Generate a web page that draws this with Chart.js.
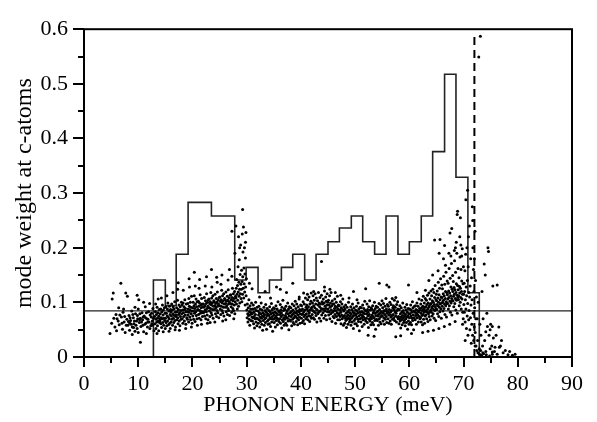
<!DOCTYPE html>
<html><head><meta charset="utf-8">
<script src="https://cdn.jsdelivr.net/npm/chart.js@4"></script>
<style>html,body{margin:0;padding:0;background:#fff}canvas{display:block}</style>
</head><body>
<canvas id="c" width="597" height="422"></canvas>
<script>
const xTickLabels = ['0','10','20','30','40','50','60','70','80','90'];
const yTickLabels = ['0','0.1','0.2','0.3','0.4','0.5','0.6'];
const xTitle = 'PHONON ENERGY (meV)';
const yTitle = 'mode weight at c-atoms';

// histogram (step line): bin left edges and values, last edge closes the final bin
const histEdges = [12.8,15.0,17.0,19.2,21.3,23.5,25.6,27.8,29.9,32.1,34.2,36.4,38.5,40.7,42.8,45.0,47.1,49.3,51.4,53.6,55.7,57.9,60.0,62.2,64.3,66.5,68.6,70.8,72.9];
const histValues = [0.141,0.094,0.188,0.283,0.283,0.258,0.258,0.141,0.164,0.1175,0.141,0.164,0.188,0.141,0.188,0.211,0.236,0.258,0.211,0.188,0.258,0.188,0.211,0.258,0.376,0.5175,0.329,0.1175];

const averageWeight = 0.0845;
const cutoffEnergy = 72.0;
const cutoffTop = 0.59;

const dotsLowEnergy = [
[4.8,.043],[5.1,.062],[5.2,.106],[5.4,.117],[5.5,.071],[5.7,.055],[5.9,.078],[6.0,.048],[6.3,.066],[6.5,.059],[6.8,.135],[6.9,.073],[7.1,.051],[7.2,.082],[7.4,.064],[7.6,.045],[7.7,.117],[7.9,.069],[8.0,.111],[8.1,.058],[8.3,.076],[8.4,.049],[8.6,.067],[8.8,.084],[8.9,.055],[9.1,.072],[9.2,.061],[9.4,.047],[9.5,.079],[9.7,.066],[9.8,.052],[10.0,.088],[10.1,.105],[10.2,.063],[10.4,.071],[10.5,.056],[10.7,.081],[10.8,.068],[11.0,.046],[11.1,.075],[11.3,.092],[11.4,.062],[11.6,.07],[11.7,.055],[11.9,.083],[12.0,.064],[12.1,.098],[12.3,.057],[12.4,.073],[12.6,.066],
[6.1,.07],[6.6,.077],[7.0,.062],[7.5,.074],[7.8,.058],[8.2,.065],[8.5,.072],[8.7,.06],[9.0,.078],[9.3,.066],[9.6,.058],[9.9,.07],[10.3,.079],[10.6,.064],[10.9,.073],[11.2,.06],[11.5,.081],[11.8,.069],[12.2,.077],[12.5,.061],[8.9,.041],[10.0,.045],[11.5,.043],[9.4,.091],[7.3,.088],[12.7,.089],[12.9,.048],[11.0,.1],[9.8,.113],[6.4,.09],[10.4,.027],[12.8,.071],
[8.45,.062],[9.15,.054],[9.85,.076],[10.25,.068],[10.85,.058],[11.35,.072],[11.75,.064],[12.15,.052],[12.45,.08],[12.65,.058]
];

const dotsAcoustic = [
[13.03,.074],[13.11,.061],[13.17,.083],[13.26,.052],[13.29,.069],[13.36,.078],[13.42,.064],[13.48,.091],[13.55,.057],[13.58,.072],[13.63,.081],[13.71,.066],[13.77,.048],[13.82,.075],[13.88,.087],[13.93,.063],[13.97,.07],[13.21,.097],[13.46,.043],[13.68,.106],
[14.02,.066],[14.07,.079],[14.14,.088],[14.19,.061],[14.24,.072],[14.31,.054],[14.36,.083],[14.43,.07],[14.47,.095],[14.53,.063],[14.58,.077],[14.64,.086],[14.7,.058],[14.76,.071],[14.83,.09],[14.88,.067],[14.94,.08],[14.99,.052],[14.27,.108],[14.61,.046],
[15.04,.071],[15.08,.092],[15.13,.063],[15.2,.08],[15.25,.057],[15.33,.075],[15.38,.088],[15.41,.066],[15.47,.099],[15.55,.073],[15.59,.059],[15.64,.084],[15.72,.07],[15.76,.093],[15.81,.062],[15.87,.078],[15.91,.052],[15.96,.087],[15.29,.112],[15.68,.047],
[16.02,.083],[16.06,.064],[16.13,.075],[16.17,.097],[16.22,.069],[16.28,.086],[16.33,.058],[16.39,.079],[16.44,.092],[16.49,.071],[16.56,.063],[16.61,.088],[16.66,.076],[16.73,.101],[16.77,.067],[16.84,.082],[16.88,.055],[16.95,.074],[16.4,.118],[16.8,.05],
[17.03,.077],[17.09,.09],[17.14,.068],[17.18,.083],[17.24,.104],[17.3,.072],[17.34,.061],[17.4,.087],[17.46,.078],[17.52,.095],[17.57,.066],[17.63,.081],[17.69,.057],[17.74,.092],[17.79,.074],[17.86,.085],[17.9,.069],[17.97,.1],[17.27,.124],[17.6,.049],[17.38,.136],
[18.02,.079],[18.08,.095],[18.12,.07],[18.19,.086],[18.23,.062],[18.28,.099],[18.35,.081],[18.39,.074],[18.44,.092],[18.51,.066],[18.55,.087],[18.6,.105],[18.67,.077],[18.71,.089],[18.78,.06],[18.83,.083],[18.87,.097],[18.94,.072],[18.31,.122],[18.75,.052],
[19.04,.083],[19.07,.069],[19.14,.098],[19.19,.077],[19.23,.088],[19.29,.064],[19.34,.107],[19.37,.082],[19.43,.093],[19.5,.073],[19.54,.086],[19.61,.1],[19.66,.068],[19.7,.091],[19.77,.079],[19.83,.111],[19.87,.084],[19.93,.062],[19.46,.128],[19.81,.055],[19.38,.143],
[20.02,.09],[20.06,.075],[20.13,.1],[20.17,.084],[20.22,.069],[20.29,.094],[20.33,.112],[20.39,.08],[20.44,.089],[20.48,.065],[20.56,.097],[20.6,.083],[20.67,.106],[20.71,.076],[20.76,.092],[20.83,.07],[20.87,.101],[20.95,.086],[20.53,.13],[20.91,.058],[20.35,.155],
[21.03,.087],[21.09,.102],[21.13,.078],[21.18,.093],[21.26,.071],[21.3,.099],[21.37,.085],[21.42,.114],[21.47,.08],[21.53,.095],[21.58,.068],[21.62,.09],[21.69,.107],[21.73,.083],[21.78,.097],[21.84,.074],[21.89,.092],[21.96,.081],[21.22,.126],[21.66,.06],[21.32,.142],
[22.02,.097],[22.08,.082],[22.13,.091],[22.18,.109],[22.24,.075],[22.29,.094],[22.34,.086],[22.41,.103],[22.45,.07],[22.52,.098],[22.57,.083],[22.61,.116],[22.68,.089],[22.72,.077],[22.79,.1],[22.84,.093],[22.88,.068],[22.93,.105],[22.36,.13],[22.76,.062],[22.59,.147],
[23.03,.09],[23.07,.106],[23.14,.084],[23.19,.097],[23.22,.074],[23.3,.101],[23.34,.089],[23.39,.118],[23.46,.081],[23.5,.095],[23.55,.108],[23.61,.077],[23.66,.099],[23.73,.087],[23.77,.112],[23.82,.071],[23.89,.093],[23.94,.103],[23.58,.128],[23.26,.063],[23.52,.16],
[24.02,.101],[24.06,.087],[24.12,.094],[24.17,.115],[24.25,.079],[24.29,.098],[24.33,.09],[24.4,.107],[24.45,.074],[24.49,.1],[24.54,.085],[24.6,.119],[24.64,.093],[24.69,.081],[24.76,.104],[24.8,.097],[24.86,.072],[24.92,.109],[24.56,.137],[24.13,.064],[24.47,.146],
[25.02,.094],[25.07,.11],[25.13,.088],[25.17,.101],[25.22,.078],[25.3,.105],[25.34,.093],[25.39,.122],[25.46,.085],[25.5,.099],[25.55,.112],[25.61,.081],[25.66,.103],[25.7,.091],[25.77,.116],[25.81,.075],[25.88,.097],[25.94,.107],[25.26,.133],[25.58,.066],[25.44,.15],
[26.03,.105],[26.08,.091],[26.12,.098],[26.18,.119],[26.24,.083],[26.29,.102],[26.33,.094],[26.41,.111],[26.45,.078],[26.5,.104],[26.55,.089],[26.6,.123],[26.65,.097],[26.69,.085],[26.76,.108],[26.81,.101],[26.86,.076],[26.93,.113],[26.57,.141],[26.15,.068],[26.82,.16],
[27.02,.098],[27.07,.114],[27.13,.092],[27.17,.105],[27.23,.082],[27.29,.109],[27.34,.097],[27.38,.126],[27.45,.089],[27.49,.103],[27.55,.116],[27.6,.085],[27.66,.107],[27.71,.095],[27.77,.12],[27.82,.079],[27.88,.101],[27.94,.111],[27.27,.148],[27.62,.07],[27.28,.23],[27.83,.19],
[28.03,.108],[28.07,.126],[28.12,.097],[28.16,.142],[28.22,.115],[28.27,.088],[28.31,.131],[28.36,.104],[28.41,.165],[28.45,.119],[28.5,.093],[28.56,.137],[28.6,.111],[28.64,.178],[28.69,.124],[28.73,.099],[28.79,.151],[28.84,.116],[28.89,.205],[28.93,.133],[28.97,.107],[28.02,.24],[28.5,.22],[28.7,.2],
[29.02,.124],[29.06,.159],[29.11,.101],[29.15,.138],[29.19,.225],[29.24,.115],[29.28,.147],[29.32,.192],[29.37,.126],[29.41,.238],[29.46,.108],[29.5,.163],[29.54,.134],[29.59,.2],[29.63,.119],[29.68,.152],[29.72,.095],[29.77,.181],[29.81,.128],[29.86,.228],[29.9,.112],[29.95,.143],[29.26,.27],[29.78,.21]
];

const dotsMiddle = [
[30.03,.086],[30.08,.072],[30.13,.097],[30.19,.079],[30.24,.064],[30.3,.09],[30.36,.076],[30.41,.105],[30.47,.069],[30.52,.083],[30.57,.058],[30.63,.094],[30.68,.078],[30.74,.088],[30.79,.067],[30.85,.081],[30.9,.099],[30.96,.073],[30.5,.135],
[31.02,.079],[31.07,.066],[31.12,.088],[31.18,.072],[31.23,.095],[31.28,.061],[31.34,.082],[31.39,.074],[31.45,.053],[31.5,.089],[31.56,.07],[31.61,.078],[31.66,.1],[31.72,.064],[31.77,.085],[31.83,.071],[31.88,.057],[31.94,.091],[31.0,.125],
[32.03,.07],[32.09,.084],[32.14,.062],[32.19,.077],[32.25,.093],[32.3,.068],[32.35,.081],[32.41,.055],[32.46,.073],[32.52,.088],[32.57,.065],[32.63,.079],[32.68,.099],[32.73,.071],[32.79,.06],[32.84,.086],[32.9,.075],[32.95,.049],[32.38,.11],
[33.02,.081],[33.07,.067],[33.13,.074],[33.18,.091],[33.24,.058],[33.29,.078],[33.35,.07],[33.4,.085],[33.46,.063],[33.51,.096],[33.57,.072],[33.62,.082],[33.67,.051],[33.73,.076],[33.78,.089],[33.84,.066],[33.89,.079],[33.95,.06],[33.4,.12],
[34.03,.068],[34.08,.085],[34.14,.076],[34.19,.061],[34.24,.092],[34.3,.072],[34.35,.083],[34.41,.056],[34.46,.079],[34.52,.07],[34.57,.098],[34.62,.064],[34.68,.087],[34.73,.074],[34.79,.047],[34.84,.081],[34.9,.069],[34.95,.09],[34.4,.108],
[35.02,.077],[35.08,.063],[35.13,.089],[35.18,.071],[35.24,.082],[35.29,.055],[35.35,.075],[35.4,.094],[35.46,.067],[35.51,.08],[35.56,.072],[35.62,.088],[35.67,.059],[35.73,.078],[35.78,.101],[35.84,.069],[35.89,.084],[35.95,.065],[35.5,.128],
[36.03,.083],[36.08,.07],[36.13,.078],[36.19,.096],[36.24,.062],[36.3,.086],[36.35,.074],[36.4,.081],[36.46,.053],[36.51,.091],[36.57,.068],[36.62,.077],[36.68,.104],[36.73,.065],[36.79,.085],[36.84,.072],[36.9,.058],[36.95,.089],[36.2,.124],
[37.02,.069],[37.07,.087],[37.13,.076],[37.18,.062],[37.24,.093],[37.29,.073],[37.34,.08],[37.4,.058],[37.45,.084],[37.51,.071],[37.56,.099],[37.62,.066],[37.67,.079],[37.72,.088],[37.78,.05],[37.83,.075],[37.89,.092],[37.94,.068],[37.35,.118],
[38.03,.081],[38.08,.066],[38.14,.09],[38.19,.074],[38.25,.083],[38.3,.057],[38.35,.077],[38.41,.097],[38.46,.069],[38.52,.086],[38.57,.063],[38.63,.079],[38.68,.072],[38.74,.094],[38.79,.06],[38.85,.082],[38.9,.075],[38.96,.102],[38.5,.135],
[39.02,.074],[39.08,.089],[39.13,.065],[39.19,.08],[39.24,.097],[39.29,.071],[39.35,.084],[39.4,.059],[39.46,.077],[39.51,.092],[39.57,.068],[39.62,.083],[39.68,.106],[39.73,.073],[39.78,.087],[39.84,.062],[39.9,.079],[39.95,.095],[39.7,.11],
[40.03,.085],[40.08,.071],[40.13,.094],[40.19,.078],[40.24,.063],[40.3,.088],[40.35,.079],[40.41,.101],[40.46,.067],[40.52,.083],[40.57,.074],[40.62,.097],[40.68,.061],[40.73,.086],[40.79,.077],[40.84,.108],[40.9,.07],[40.95,.091],[40.5,.117],
[41.02,.079],[41.07,.095],[41.13,.073],[41.18,.088],[41.24,.105],[41.29,.068],[41.35,.084],[41.4,.092],[41.46,.076],[41.51,.11],[41.56,.081],[41.62,.065],[41.67,.097],[41.73,.086],[41.78,.074],[41.84,.102],[41.89,.089],[41.95,.071],[41.2,.115],[41.9,.117],
[42.03,.091],[42.08,.078],[42.14,.099],[42.19,.085],[42.24,.112],[42.3,.072],[42.35,.094],[42.41,.083],[42.46,.104],[42.51,.069],[42.57,.09],[42.62,.116],[42.68,.081],[42.73,.097],[42.79,.076],[42.84,.108],[42.9,.087],[42.95,.064],[42.35,.12],
[43.02,.086],[43.07,.103],[43.13,.079],[43.18,.095],[43.24,.118],[43.29,.082],[43.35,.099],[43.4,.071],[43.46,.092],[43.51,.109],[43.57,.084],[43.62,.097],[43.68,.066],[43.73,.089],[43.79,.113],[43.84,.077],[43.9,.101],[43.95,.088],[43.8,.175],
[44.03,.097],[44.08,.081],[44.14,.106],[44.19,.088],[44.25,.071],[44.3,.099],[44.35,.121],[44.41,.084],[44.46,.093],[44.52,.076],[44.57,.11],[44.62,.089],[44.68,.102],[44.73,.068],[44.79,.095],[44.84,.116],[44.9,.083],[44.95,.1],[44.35,.128],
[45.02,.088],[45.08,.104],[45.13,.077],[45.19,.095],[45.24,.083],[45.29,.112],[45.35,.07],[45.4,.091],[45.46,.099],[45.51,.079],[45.57,.118],[45.62,.086],[45.68,.094],[45.73,.065],[45.79,.103],[45.84,.082],[45.9,.097],[45.95,.074],[45.35,.124],
[46.03,.084],[46.08,.097],[46.13,.072],[46.19,.089],[46.24,.106],[46.3,.078],[46.35,.093],[46.41,.062],[46.46,.085],[46.52,.1],[46.57,.074],[46.62,.091],[46.68,.081],[46.73,.111],[46.79,.068],[46.84,.088],[46.9,.095],[46.95,.077],[46.35,.118],
[47.02,.079],[47.07,.094],[47.13,.068],[47.18,.086],[47.24,.074],[47.29,.101],[47.35,.082],[47.4,.061],[47.46,.09],[47.51,.077],[47.57,.097],[47.62,.07],[47.68,.087],[47.73,.106],[47.79,.073],[47.84,.058],[47.9,.084],[47.95,.092],[47.35,.113]
];

const dotsOptical = [
[48.03,.076],[48.08,.062],[48.14,.088],[48.19,.071],[48.25,.095],[48.3,.067],[48.35,.08],[48.41,.054],[48.46,.074],[48.52,.091],[48.57,.069],[48.63,.083],[48.68,.06],[48.74,.077],[48.79,.1],[48.85,.072],[48.9,.086],[48.96,.064],[48.88,.108],
[49.02,.081],[49.08,.068],[49.13,.075],[49.19,.092],[49.24,.058],[49.3,.079],[49.35,.071],[49.41,.087],[49.46,.064],[49.52,.097],[49.57,.074],[49.62,.083],[49.68,.052],[49.73,.076],[49.79,.09],[49.84,.067],[49.9,.08],[49.95,.061],[49.7,.12],
[50.03,.07],[50.08,.086],[50.14,.077],[50.19,.061],[50.25,.093],[50.3,.073],[50.35,.084],[50.41,.057],[50.46,.08],[50.52,.069],[50.57,.099],[50.62,.065],[50.68,.088],[50.73,.075],[50.79,.048],[50.84,.082],[50.9,.07],[50.95,.091],[50.35,.105],
[51.02,.078],[51.08,.064],[51.13,.09],[51.19,.072],[51.24,.083],[51.3,.056],[51.35,.076],[51.4,.095],[51.46,.068],[51.51,.081],[51.56,.073],[51.62,.089],[51.67,.06],[51.73,.079],[51.78,.102],[51.84,.07],[51.89,.085],[51.95,.066],[51.95,.125],
[52.03,.084],[52.08,.071],[52.13,.079],[52.19,.097],[52.24,.063],[52.3,.087],[52.35,.075],[52.4,.082],[52.46,.054],[52.51,.092],[52.57,.069],[52.62,.078],[52.68,.103],[52.73,.066],[52.79,.086],[52.84,.073],[52.9,.059],[52.95,.09],[52.4,.04],
[53.02,.07],[53.07,.088],[53.13,.077],[53.18,.063],[53.24,.094],[53.29,.074],[53.34,.081],[53.4,.059],[53.45,.085],[53.51,.072],[53.56,.1],[53.62,.067],[53.67,.08],[53.72,.089],[53.78,.051],[53.83,.076],[53.89,.093],[53.94,.069],[53.5,.038],
[54.03,.082],[54.08,.067],[54.14,.091],[54.19,.075],[54.25,.084],[54.3,.058],[54.35,.078],[54.41,.098],[54.46,.07],[54.52,.087],[54.57,.064],[54.63,.08],[54.68,.073],[54.74,.095],[54.79,.061],[54.85,.083],[54.9,.076],[54.96,.103],[54.45,.135],
[55.02,.075],[55.08,.09],[55.13,.066],[55.19,.081],[55.24,.098],[55.29,.072],[55.35,.085],[55.4,.06],[55.46,.078],[55.51,.093],[55.57,.069],[55.62,.084],[55.68,.107],[55.73,.074],[55.78,.088],[55.84,.063],[55.9,.08],[55.95,.096],[55.85,.132],
[56.03,.083],[56.08,.07],[56.13,.093],[56.19,.077],[56.24,.062],[56.3,.087],[56.35,.078],[56.41,.1],[56.46,.066],[56.52,.082],[56.57,.073],[56.62,.096],[56.68,.06],[56.73,.085],[56.79,.076],[56.84,.107],[56.9,.069],[56.95,.09],[56.25,.128],
[57.02,.078],[57.07,.094],[57.13,.072],[57.18,.087],[57.24,.104],[57.29,.067],[57.35,.083],[57.4,.091],[57.46,.075],[57.51,.109],[57.56,.08],[57.62,.064],[57.67,.096],[57.73,.085],[57.78,.073],[57.84,.101],[57.89,.088],[57.95,.07],[57.5,.037],
[58.03,.074],[58.08,.061],[58.14,.087],[58.19,.07],[58.25,.094],[58.3,.066],[58.35,.079],[58.41,.053],[58.46,.073],[58.52,.09],[58.57,.068],[58.63,.082],[58.68,.059],[58.74,.076],[58.79,.099],[58.85,.071],[58.9,.085],[58.96,.063],[58.4,.039],
[59.02,.08],[59.08,.067],[59.13,.074],[59.19,.091],[59.24,.057],[59.3,.078],[59.35,.07],[59.41,.086],[59.46,.063],[59.52,.096],[59.57,.073],[59.62,.082],[59.68,.051],[59.73,.075],[59.79,.089],[59.84,.066],[59.9,.079],[59.95,.06],[59.85,.132],
[60.03,.072],[60.08,.088],[60.14,.079],[60.19,.063],[60.25,.095],[60.3,.075],[60.35,.086],[60.41,.059],[60.46,.082],[60.52,.071],[60.57,.101],[60.62,.067],[60.68,.09],[60.73,.077],[60.79,.05],[60.84,.084],[60.9,.072],[60.95,.093],[60.4,.043],
[61.02,.082],[61.08,.068],[61.13,.094],[61.19,.076],[61.24,.087],[61.3,.06],[61.35,.08],[61.4,.099],[61.46,.072],[61.51,.085],[61.56,.077],[61.62,.093],[61.67,.064],[61.73,.083],[61.78,.106],[61.84,.074],[61.89,.089],[61.95,.07],[61.4,.118]
];

const dotsUpperOptical = [
[62.02,.086],[62.06,.072],[62.11,.097],[62.15,.08],[62.2,.064],[62.25,.09],[62.29,.104],[62.34,.076],[62.39,.085],[62.43,.059],[62.48,.093],[62.53,.078],[62.57,.111],[62.62,.069],[62.67,.088],[62.71,.082],[62.76,.099],[62.81,.062],[62.85,.091],[62.9,.075],[62.94,.107],[62.98,.084],[62.45,.045],[62.97,.122],
[63.02,.092],[63.06,.077],[63.11,.085],[63.15,.104],[63.2,.07],[63.25,.096],[63.29,.082],[63.34,.113],[63.39,.088],[63.43,.065],[63.48,.099],[63.53,.079],[63.57,.091],[63.62,.117],[63.67,.074],[63.71,.094],[63.76,.083],[63.81,.106],[63.85,.068],[63.9,.097],[63.94,.086],[63.98,.121],[63.6,.14],[63.45,.047],
[64.02,.098],[64.06,.082],[64.11,.112],[64.15,.09],[64.2,.075],[64.25,.103],[64.29,.093],[64.34,.124],[64.39,.079],[64.43,.1],[64.48,.087],[64.53,.118],[64.57,.071],[64.62,.096],[64.67,.109],[64.71,.085],[64.76,.131],[64.81,.092],[64.85,.067],[64.9,.105],[64.94,.088],[64.98,.115],[64.3,.15],[64.66,.214],[64.45,.049],
[65.02,.103],[65.06,.087],[65.11,.096],[65.15,.121],[65.2,.079],[65.25,.108],[65.29,.094],[65.34,.137],[65.39,.1],[65.43,.074],[65.48,.114],[65.53,.091],[65.57,.126],[65.62,.083],[65.67,.105],[65.71,.097],[65.76,.143],[65.81,.088],[65.85,.11],[65.9,.071],[65.94,.099],[65.98,.132],[65.3,.158],[65.5,.19],[65.66,.215],[65.45,.052],
[66.02,.109],[66.06,.093],[66.11,.125],[66.15,.1],[66.2,.084],[66.25,.116],[66.29,.104],[66.34,.148],[66.39,.089],[66.43,.112],[66.48,.097],[66.53,.133],[66.57,.078],[66.62,.107],[66.67,.12],[66.71,.094],[66.76,.155],[66.81,.101],[66.85,.073],[66.9,.118],[66.94,.098],[66.98,.139],[66.3,.18],[66.5,.204],[66.66,.168],[66.45,.056],
[67.02,.114],[67.06,.098],[67.11,.106],[67.15,.135],[67.2,.088],[67.25,.121],[67.29,.109],[67.34,.162],[67.39,.094],[67.43,.117],[67.48,.102],[67.53,.144],[67.57,.082],[67.62,.112],[67.67,.128],[67.71,.099],[67.76,.171],[67.81,.107],[67.85,.077],[67.9,.124],[67.94,.103],[67.98,.149],[67.3,.19],[67.5,.227],[67.82,.235],[67.45,.06],[67.66,.185],
[68.02,.12],[68.06,.103],[68.11,.138],[68.15,.111],[68.2,.092],[68.25,.127],[68.29,.115],[68.34,.176],[68.39,.098],[68.43,.123],[68.48,.107],[68.53,.155],[68.57,.086],[68.62,.118],[68.67,.134],[68.71,.104],[68.76,.19],[68.81,.113],[68.85,.08],[68.9,.131],[68.94,.109],[68.98,.162],[68.3,.195],[68.5,.2],[68.82,.261],[68.9,.267],[68.45,.065],[68.66,.21],
[69.02,.123],[69.06,.105],[69.11,.112],[69.15,.145],[69.2,.094],[69.25,.129],[69.29,.117],[69.34,.183],[69.39,.1],[69.43,.126],[69.48,.109],[69.53,.16],[69.57,.088],[69.62,.12],[69.67,.139],[69.71,.106],[69.76,.198],[69.81,.115],[69.85,.082],[69.9,.134],[69.94,.07],[69.98,.165],[69.42,.255],[69.5,.205],[69.3,.22],[69.66,.185],[69.82,.06],
[70.02,.115],[70.06,.096],[70.11,.135],[70.15,.082],[70.2,.12],[70.25,.158],[70.29,.064],[70.34,.105],[70.39,.188],[70.43,.088],[70.48,.128],[70.53,.052],[70.57,.112],[70.62,.2],[70.67,.075],[70.71,.14],[70.76,.098],[70.81,.04],[70.85,.165],[70.9,.22],[70.94,.068],[70.98,.118],[70.42,.288],[70.74,.305],[70.3,.03],
[71.02,.085],[71.07,.24],[71.12,.11],[71.17,.05],[71.22,.13],[71.27,.072],[71.32,.18],[71.37,.095],[71.42,.025],[71.47,.145],[71.52,.06],[71.57,.105],[71.62,.275],[71.67,.04],[71.72,.2],[71.77,.08],[71.82,.16],[71.87,.03],[71.92,.12],[71.97,.055],[71.69,.25],
[72.0,.18],[72.05,.09],[72.1,.23],[72.15,.045],[72.2,.14],[72.25,.07],[72.3,.02]
];

const dotsTail = [
[72.12,.02],[72.36,.11],[72.44,.012],[72.52,.07],[72.6,.03],[72.8,.549],[73.1,.587],[72.65,.008],[72.9,.015],
[72.7,.1],[73.0,.06],[73.2,.04],[73.4,.12],[73.5,.02],[73.6,.07],[73.8,.17],[73.9,.03],[74.0,.15],[74.1,.01],[74.3,.08],[74.5,.2],[74.6,.193],[74.7,.04],[74.9,.015],[75.0,.06],[75.2,.02],[75.4,.13],[75.5,.035],[75.7,.01],[76.0,.04],[76.2,.005],[76.5,.055],[76.8,.02],[77.0,.03],[77.3,.008],[77.7,.012],[78.2,.004],[78.5,.01],[79.0,.003],[79.5,.005],
[72.95,.005],[73.3,.003],[73.7,.006],[74.2,.004],[74.8,.002],[75.3,.005],[73.15,.012],[73.55,.008],[74.4,.056],[75.3,.056],[74.1,.046],[74.9,.05],[76.2,.132],[75.8,.018],[76.6,.018],[75.3,.009]
];

const toPts = arr => arr.map(p => ({x: p[0], y: p[1]}));
const allDots = [].concat(dotsLowEnergy, dotsAcoustic, dotsMiddle, dotsOptical, dotsUpperOptical, dotsTail);

const histPoints = [{x: 0, y: 0}];
for (let i = 0; i < histValues.length; i++) histPoints.push({x: histEdges[i], y: histValues[i]});
histPoints.push({x: histEdges[histEdges.length - 1], y: 0});
histPoints.push({x: 90, y: 0});

const framePlugin = {
  id: 'frame',
  afterDatasetsDraw(chart) {
    const {ctx, chartArea: a, scales: {x, y}} = chart;
    ctx.save();
    ctx.strokeStyle = '#000';
    ctx.lineWidth = 2;
    ctx.strokeRect(a.left, a.top, a.right - a.left, a.bottom - a.top);
    ctx.beginPath();
    for (let v = 0; v <= 90; v += 5) {
      const px = Math.round(x.getPixelForValue(v));
      const len = v % 10 === 0 ? 10 : 6;
      ctx.moveTo(px, a.bottom); ctx.lineTo(px, a.bottom + len);
    }
    for (let i = 0; i <= 12; i++) {
      const py = Math.round(y.getPixelForValue(i * 0.05));
      const len = i % 2 === 0 ? 11 : 6;
      ctx.moveTo(a.left - len, py); ctx.lineTo(a.left, py);
    }
    ctx.stroke();
    ctx.restore();
  }
};

const serif = 'Liberation Serif';
new Chart(document.getElementById('c'), {
  type: 'scatter',
  data: {
    datasets: [
      {data: toPts(allDots), pointRadius: 1.5, pointBackgroundColor: '#000', pointBorderWidth: 0, order: 0},
      {data: histPoints, showLine: true, stepped: 'before', borderColor: '#222', borderWidth: 1.6, pointRadius: 0, order: 2},
      {data: [{x: 0, y: averageWeight}, {x: 90, y: averageWeight}], showLine: true, borderColor: '#222', borderWidth: 1.4, pointRadius: 0, order: 3},
      {data: [{x: cutoffEnergy, y: 0}, {x: cutoffEnergy, y: cutoffTop}], showLine: true, borderColor: '#000', borderWidth: 2, borderDash: [8, 5], pointRadius: 0, order: 1}
    ]
  },
  options: {
    responsive: false,
    animation: false,
    devicePixelRatio: 1,
    layout: {padding: {left: 0, right: 19, top: 14, bottom: 0}},
    plugins: {legend: {display: false}, tooltip: {enabled: false}},
    scales: {
      x: {
        type: 'linear', min: 0, max: 90,
        grid: {display: false, drawTicks: false},
        border: {display: false},
        ticks: {stepSize: 10, padding: 14, color: '#000', font: {family: serif, size: 22},
                callback: (v, i) => xTickLabels[i]},
        title: {display: true, text: xTitle, color: '#000', font: {family: serif, size: 22}, padding: {top: 0, bottom: 4}},
        afterFit: s => { s.height = 65; }
      },
      y: {
        type: 'linear', min: 0, max: 0.6,
        grid: {display: false, drawTicks: false},
        border: {display: false},
        ticks: {stepSize: 0.1, padding: 16, color: '#000', font: {family: serif, size: 22},
                callback: (v, i) => yTickLabels[i]},
        title: {display: true, text: yTitle, color: '#000', font: {family: serif, size: 24}, padding: {top: 10, bottom: 0}},
        afterFit: s => { s.width = 84; }
      }
    }
  },
  plugins: [framePlugin]
});
</script>
</body></html>
